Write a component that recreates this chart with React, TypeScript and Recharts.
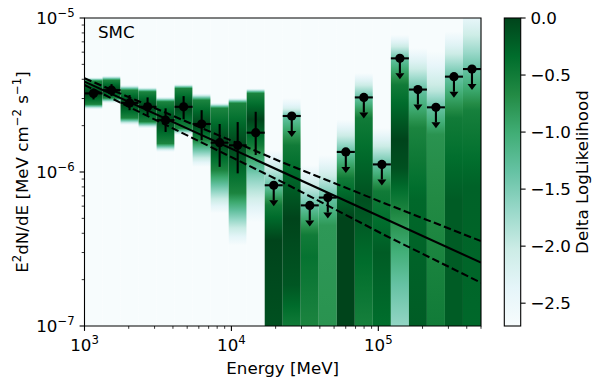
import React from "react"
import {
  ComposedChart,
  XAxis,
  YAxis,
  Line,
  Scatter,
  ErrorBar,
  ReferenceArea,
} from "recharts"

// energy bins (MeV), 22 log bins 1 GeV - 500 GeV
const binEdges = [
  1000, 1326.4, 1759.3, 2333.5, 3095.2, 4105.5, 5445.6, 7223.1, 9580.9, 12708.5,
  16856.7, 22359.3, 29657.6, 39338.3, 52178.8, 69210.7, 91802.1, 121768, 161514,
  214235, 284165, 376919, 500000,
]
const binCenters = [
  1151.7, 1527.7, 2026.2, 2687.6, 3564.8, 4728.4, 6271.7, 8318.9, 11034.2, 14635.7,
  19412.8, 25749.2, 34153.9, 45301.8, 60088.8, 79702.5, 105718, 140227, 185998,
  246710, 327240, 434054,
]

// detected bins 0-9: E2dN/dE with 1 sigma bounds
const detFlux = [3.24e-6, 3.4e-6, 2.81e-6, 2.65e-6, 2.17e-6, 2.65e-6, 2.05e-6, 1.55e-6, 1.49e-6, 1.8e-6]
const detHigh = [3.49e-6, 3.72e-6, 3.16e-6, 3.05e-6, 2.59e-6, 3.11e-6, 2.52e-6, 2.05e-6, 2.11e-6, 2.46e-6]
const detLow = [2.96e-6, 3.11e-6, 2.52e-6, 2.34e-6, 1.82e-6, 2.2e-6, 1.61e-6, 1.08e-6, 9.8e-7, 1.29e-6]

// upper limits for bins 10-21
const ulFlux = [8.2e-7, 2.31e-6, 6.07e-7, 6.82e-7, 1.35e-6, 3.05e-6, 1.12e-6, 5.47e-6, 3.43e-6, 2.63e-6, 4.16e-6, 4.66e-6]

// best fit power law and its 1 sigma band
const modelEnergy = [1e3, 5e5]
const modelFlux = [3.86e-6, 2.58e-7]
const bandEnergy = [1e3, 2.3e4, 1.1e5, 5e5]
const bandUpper = [4.06e-6, 1.14e-6, 6.27e-7, 3.56e-7]
const bandLower = [3.67e-6, 8.46e-7, 3.9e-7, 1.91e-7]

// likelihood profile per bin: [flux, delta loglike]
const likelihoodNodes: [number, number][][] = [
  [[4.12e-6, -2.7], [3.9e-6, -0.6], [3.24e-6, 0], [2.75e-6, -0.6], [2.55e-6, -2.7]],
  [[4.22e-6, -2.7], [3.95e-6, -0.6], [3.4e-6, 0], [3.02e-6, -0.6], [2.8e-6, -2.7]],
  [[3.67e-6, -2.7], [3.4e-6, -0.6], [2.81e-6, 0], [2.24e-6, -0.6], [2.02e-6, -2.7]],
  [[3.55e-6, -2.7], [3.32e-6, -0.6], [2.65e-6, 0], [2.12e-6, -0.6], [1.92e-6, -2.7]],
  [[3.08e-6, -2.7], [2.86e-6, -0.6], [2.17e-6, 0], [1.53e-6, -0.6], [1.35e-6, -2.7]],
  [[3.72e-6, -2.7], [3.49e-6, -0.6], [2.65e-6, 0], [1.92e-6, -0.6], [1.74e-6, -2.7]],
  [[3.24e-6, -2.7], [2.93e-6, -0.6], [2.05e-6, 0], [1.61e-6, -0.6], [1.08e-6, -2.7]],
  [[2.81e-6, -2.7], [2.6e-6, -0.6], [1.55e-6, 0], [1.03e-6, -0.6], [5.4e-7, -2.7]],
  [[3.03e-6, -2.7], [2.8e-6, -0.6], [1.49e-6, 0], [7.3e-7, -0.6], [3.34e-7, -2.7]],
  [[3.49e-6, -2.7], [3.25e-6, -0.6], [2.2e-6, 0], [1.49e-6, -0.5], [9.6e-7, -1.5], [4.72e-7, -2.7]],
  [[1.39e-6, -2.7], [8.2e-7, -1.35], [6.1e-7, -0.5], [3.6e-7, 0], [1e-7, -0.1]],
  [[3.02e-6, -2.7], [2.6e-6, -2.2], [2.31e-6, -1.35], [1.49e-6, -0.5], [5e-7, 0], [1.84e-7, -0.15], [1e-7, -0.5]],
  [[1.11e-6, -2.7], [6.07e-7, -1.35], [3.9e-7, -0.5], [2.8e-7, -0.4], [1e-7, -0.6]],
  [[1.29e-6, -2.7], [6.82e-7, -1.35], [4.5e-7, -0.8], [1e-7, -0.75]],
  [[2.19e-6, -2.7], [1.35e-6, -1.35], [9.1e-7, -0.5], [5e-7, 0], [1e-7, 0]],
  [[4.39e-6, -2.7], [3.05e-6, -1.35], [2.24e-6, -0.5], [6.6e-7, -0.1], [3.1e-7, -0.3], [1e-7, -0.55]],
  [[1.93e-6, -2.7], [1.12e-6, -1.35], [7.5e-7, -0.5], [3e-7, -0.2], [1e-7, -0.35]],
  [[7.76e-6, -2.7], [5.47e-6, -1.35], [3.68e-6, -0.5], [1.61e-6, 0], [1.06e-6, -0.1], [5e-7, -0.7], [1.84e-7, -1.35], [1e-7, -1.65]],
  [[6.38e-6, -2.7], [3.43e-6, -1.35], [1.93e-6, -0.6], [6.6e-7, -0.3], [1e-7, -0.2]],
  [[6.1e-6, -2.7], [3.35e-6, -1.9], [2.63e-6, -1.35], [1.75e-6, -0.75], [1e-7, -0.5]],
  [[8.2e-6, -2.7], [4.16e-6, -1.35], [2.24e-6, -0.5], [6.6e-7, -0.2], [1e-7, -0.2]],
  [[1e-5, -2.4], [4.66e-6, -1.35], [2.5e-6, -0.55], [8e-7, -0.25], [1e-7, -0.3]],
]

const xTicks = [1e3, 2e3, 3e3, 4e3, 5e3, 6e3, 7e3, 8e3, 9e3, 1e4, 2e4, 3e4, 4e4, 5e4, 6e4, 7e4, 8e4, 9e4, 1e5, 2e5, 3e5, 4e5, 5e5]
const yTicks = [1e-7, 2e-7, 3e-7, 4e-7, 5e-7, 6e-7, 7e-7, 8e-7, 9e-7, 1e-6, 2e-6, 3e-6, 4e-6, 5e-6, 6e-6, 7e-6, 8e-6, 9e-6, 1e-5]
const cbarTicks = [0, -0.5, -1, -1.5, -2, -2.5]

const X_DOMAIN = [1e3, 5e5]
const Y_DOMAIN = [1e-7, 1e-5]
const DLNL_MIN = -2.7
const FONT = "DejaVu Sans"
const FS = 16.7
const SUP = 11.7

const BUGN = ["#f7fcfd", "#e5f5f9", "#ccece6", "#99d8c9", "#66c2a4", "#41ae76", "#238b45", "#006d2c", "#00441b"]

function rgb(h: string) {
  return [1, 3, 5].map((i) => parseInt(h.slice(i, i + 2), 16))
}

function cmap(v: number) {
  const t = Math.max(0, Math.min(1, (v - DLNL_MIN) / -DLNL_MIN))
  const s = t * (BUGN.length - 1)
  const i = Math.min(Math.floor(s), BUGN.length - 2)
  const f = s - i
  const a = rgb(BUGN[i])
  const b = rgb(BUGN[i + 1])
  const c = a.map((x, k) => Math.round(x + (b[k] - x) * f))
  return `rgb(${c[0]},${c[1]},${c[2]})`
}

function columnStops(nodes: [number, number][]) {
  const top = Math.log10(Y_DOMAIN[1])
  const bot = Math.log10(Y_DOMAIN[0])
  const pts = nodes
    .map(([f, v]) => [(top - Math.log10(f)) / (top - bot), v])
    .sort((a, b) => a[0] - b[0])
  if (pts[0][0] > 0) pts.unshift([0, pts[0][1]])
  if (pts[pts.length - 1][0] < 1) pts.push([1, pts[pts.length - 1][1]])
  const stops: number[][] = []
  for (let k = 0; k < pts.length - 1; k++) {
    const [o0, v0] = pts[k]
    const [o1, v1] = pts[k + 1]
    for (let s = 0; s < 6; s++) {
      const u = s / 6
      stops.push([o0 + (o1 - o0) * u, v0 + (v1 - v0) * u])
    }
  }
  stops.push(pts[pts.length - 1])
  return stops
}

function expLabel(v: number) {
  const e = Math.round(Math.log10(v))
  return e < 0 ? `\u2212${-e}` : `${e}`
}

function isMajor(v: number) {
  const l = Math.log10(v)
  return Math.abs(l - Math.round(l)) < 1e-6
}

const XTick = (props: any) => {
  const { x, y, payload } = props
  const major = isMajor(payload.value)
  return (
    <g>
      <line x1={x} x2={x} y1={y} y2={y + (major ? 4.9 : 2.8)} stroke="#000" strokeWidth={major ? 1.1 : 0.8} />
      {major && (
        <text x={x} y={y + 25} textAnchor="middle" fontFamily={FONT} fontSize={FS} fill="#000">
          10<tspan dy={-7} fontSize={SUP}>{expLabel(payload.value)}</tspan>
        </text>
      )}
    </g>
  )
}

const YTick = (props: any) => {
  const { x, y, payload } = props
  const major = isMajor(payload.value)
  return (
    <g>
      <line x1={x} x2={x - (major ? 4.9 : 2.8)} y1={y} y2={y} stroke="#000" strokeWidth={major ? 1.1 : 0.8} />
      {major && (
        <text x={x - 9.8} y={y + 6} textAnchor="end" fontFamily={FONT} fontSize={FS} fill="#000">
          10<tspan dy={-7} fontSize={SUP}>{expLabel(payload.value)}</tspan>
        </text>
      )}
    </g>
  )
}

const Dot = (p: any) => <circle cx={p.cx} cy={p.cy} r={4.6} fill="#000" />

const UpperLimit = (p: any) => (
  <g>
    <line x1={p.cx} x2={p.cx} y1={p.cy} y2={p.cy + 15} stroke="#000" strokeWidth={2.1} />
    <polygon points={`${p.cx - 4.5},${p.cy + 15} ${p.cx + 4.5},${p.cy + 15} ${p.cx},${p.cy + 21}`} fill="#000" />
    <circle cx={p.cx} cy={p.cy} r={4.6} fill="#000" />
  </g>
)

export default function App() {
  const detData = detFlux.map((f, i) => ({
    e: binCenters[i],
    f,
    xErr: [binCenters[i] - binEdges[i], binEdges[i + 1] - binCenters[i]],
    yErr: [f - detLow[i], detHigh[i] - f],
  }))
  const ulData = ulFlux.map((f, k) => {
    const i = k + detFlux.length
    return { e: binCenters[i], f, xErr: [binCenters[i] - binEdges[i], binEdges[i + 1] - binCenters[i]] }
  })
  const modelData = modelEnergy.map((e, i) => ({ e, f: modelFlux[i] }))
  const upperData = bandEnergy.map((e, i) => ({ e, f: bandUpper[i] }))
  const lowerData = bandEnergy.map((e, i) => ({ e, f: bandLower[i] }))

  // colorbar geometry
  const cbX = 504.3
  const cbW = 16.4
  const cbTop = 18
  const cbBot = 326
  const cbY = (v: number) => cbTop + ((0 - v) / -DLNL_MIN) * (cbBot - cbTop)
  const n = BUGN.length

  return (
    <div style={{ position: "absolute", left: 0, top: 0, width: 603, height: 388, background: "#fff", overflow: "hidden" }}>
      <svg width={0} height={0} style={{ position: "absolute" }}>
        <defs>
          {likelihoodNodes.map((nodes, i) => (
            <linearGradient key={i} id={`lk${i}`} x1="0" y1="0" x2="0" y2="1">
              {columnStops(nodes).map(([o, v], k) => (
                <stop key={k} offset={o} stopColor={cmap(v)} />
              ))}
            </linearGradient>
          ))}
          <linearGradient id="cbar" x1="0" y1="0" x2="0" y2="1">
            {BUGN.map((_, k) => (
              <stop key={k} offset={k / (n - 1)} stopColor={BUGN[n - 1 - k]} />
            ))}
          </linearGradient>
        </defs>
      </svg>
      <ComposedChart width={603} height={388} margin={{ top: 18, right: 122, bottom: 0, left: 0 }}>
        <XAxis
          dataKey="e"
          type="number"
          scale="log"
          domain={X_DOMAIN}
          allowDataOverflow
          ticks={xTicks}
          interval={0}
          tickSize={0}
          tickMargin={0}
          axisLine={false}
          tickLine={false}
          height={62}
          tick={(p: any) => <XTick {...p} />}
        />
        <YAxis
          dataKey="f"
          type="number"
          scale="log"
          domain={Y_DOMAIN}
          allowDataOverflow
          ticks={yTicks}
          interval={0}
          tickSize={0}
          tickMargin={0}
          axisLine={false}
          tickLine={false}
          width={84.5}
          tick={(p: any) => <YTick {...p} />}
        />
        {likelihoodNodes.map((_, i) => (
          <ReferenceArea
            key={i}
            x1={binEdges[i]}
            x2={binEdges[i + 1]}
            y1={Y_DOMAIN[0]}
            y2={Y_DOMAIN[1]}
            fill={`url(#lk${i})`}
            fillOpacity={1}
            stroke="none"
          />
        ))}
        <ReferenceArea
          x1={X_DOMAIN[0]}
          x2={X_DOMAIN[1]}
          y1={Y_DOMAIN[0]}
          y2={Y_DOMAIN[1]}
          fill="none"
          stroke="#000"
          strokeWidth={1.1}
        />
        <Line data={modelData} dataKey="f" stroke="#000" strokeWidth={2.1} dot={false} isAnimationActive={false} />
        <Line data={upperData} dataKey="f" stroke="#000" strokeWidth={2.1} strokeDasharray="7.5 3.3" dot={false} isAnimationActive={false} />
        <Line data={lowerData} dataKey="f" stroke="#000" strokeWidth={2.1} strokeDasharray="7.5 3.3" dot={false} isAnimationActive={false} />
        <Scatter data={detData} dataKey="f" shape={Dot} isAnimationActive={false}>
          <ErrorBar dataKey="yErr" direction="y" width={0} stroke="#000" strokeWidth={2.1} isAnimationActive={false} />
          <ErrorBar dataKey="xErr" direction="x" width={0} stroke="#000" strokeWidth={2.1} isAnimationActive={false} />
        </Scatter>
        <Scatter data={ulData} dataKey="f" shape={UpperLimit} isAnimationActive={false}>
          <ErrorBar dataKey="xErr" direction="x" width={0} stroke="#000" strokeWidth={2.1} isAnimationActive={false} />
        </Scatter>
      </ComposedChart>
      <svg
        width={603}
        height={388}
        style={{ position: "absolute", left: 0, top: 0, pointerEvents: "none" }}
        fontFamily={FONT}
        fontSize={FS}
      >
        <text x={98} y={37.5} fill="#000">SMC</text>
        <text x={282.7} y={374} textAnchor="middle" fill="#000">Energy [MeV]</text>
        <text x={27.5} y={172} textAnchor="middle" fill="#000" transform="rotate(-90 27.5 172)">
          E<tspan dy={-7} fontSize={SUP}>2</tspan>
          <tspan dy={7}>dN/dE [MeV cm</tspan>
          <tspan dy={-7} fontSize={SUP}>{"\u22122"}</tspan>
          <tspan dy={7}> s</tspan>
          <tspan dy={-7} fontSize={SUP}>{"\u22121"}</tspan>
          <tspan dy={7}>]</tspan>
        </text>
        <rect x={cbX} y={cbTop} width={cbW} height={cbBot - cbTop} fill="url(#cbar)" stroke="#000" strokeWidth={1.1} />
        {cbarTicks.map((v) => (
          <g key={v}>
            <line x1={cbX + cbW} x2={cbX + cbW + 4.9} y1={cbY(v)} y2={cbY(v)} stroke="#000" strokeWidth={1.1} />
            <text x={cbX + cbW + 9.7} y={cbY(v) + 6} fill="#000">
              {v === 0 ? "0.0" : `\u2212${(-v).toFixed(1)}`}
            </text>
          </g>
        ))}
        <text x={588} y={172} textAnchor="middle" fill="#000" transform="rotate(-90 588 172)">
          Delta LogLikelihood
        </text>
      </svg>
    </div>
  )
}
